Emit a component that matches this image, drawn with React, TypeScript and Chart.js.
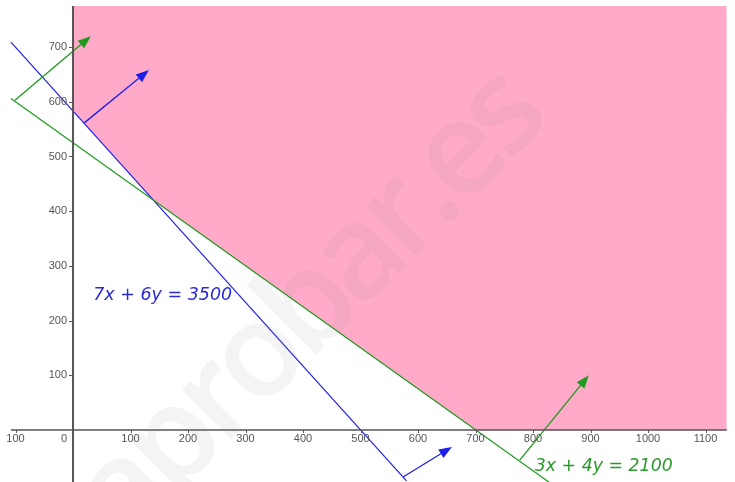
import React, { useEffect, useRef } from "react";
import { Chart, registerables } from "chart.js";

Chart.register(...registerables);

// ---- data ----
const xTickValues = [-100, 0, 100, 200, 300, 400, 500, 600, 700, 800, 900, 1000, 1100];
const xTickLabels = ["100", "0", "100", "200", "300", "400", "500", "600", "700", "800", "900", "1000", "1100"];
const yTickValues = [100, 200, 300, 400, 500, 600, 700];
const yTickLabels = ["100", "200", "300", "400", "500", "600", "700"];

// feasible region lower boundary (filled up to the top of the view)
const regionX = [0, 140, 700, 1137];
const regionY = [583.3, 420, 0, 0];
const regionTop = 775;

// 7x + 6y = 3500
const blueLineX = [-108, 580];
const blueLineY = [709, -93];
// 3x + 4y = 2100
const greenLineX = [-108, 850];
const greenLineY = [606, -112];

// normal arrows [x0, y0, x1, y1]
const blueArrows = [
  [19, 561, 132, 658],
  [574, -86, 659, -31],
];
const greenArrows = [
  [-101, 603, 31, 720],
  [777, -55, 897, 100],
];

const blueLabel = { text: "7x + 6y = 3500", x: 35, y: 237 };
const greenLabel = { text: "3x + 4y = 2100", x: 803, y: -75 };

const axisXRange = [-108, 1137];
const axisYRange = [-95, 775];

const X_MIN = -127;
const X_MAX = 1151.3;
const Y_MIN = -95.1;
const Y_MAX = 786.1;

const BLUE = "#1f1fe8";
const GREEN = "#1e9a1e";
const PINK = "#ffaac8";

const pts = (xs: number[], ys: number[]) => xs.map((x, i) => ({ x, y: ys[i] }));

export default function App() {
  const ref = useRef<HTMLCanvasElement | null>(null);

  useEffect(() => {
    document.body.style.margin = "0";
    const canvas = ref.current!;

    const overlay = {
      id: "overlay",
      afterDatasetsDraw(chart: any) {
        const ctx = chart.ctx as CanvasRenderingContext2D;
        const sx = chart.scales.x;
        const sy = chart.scales.y;
        const px = (v: number) => sx.getPixelForValue(v);
        const py = (v: number) => sy.getPixelForValue(v);

        // arrows
        const drawArrow = (a: number[], color: string) => {
          const x0 = px(a[0]), y0 = py(a[1]), x1 = px(a[2]), y1 = py(a[3]);
          const ang = Math.atan2(y1 - y0, x1 - x0);
          const L = 13, W = 5;
          const bx = x1 - L * Math.cos(ang), by = y1 - L * Math.sin(ang);
          ctx.save();
          ctx.strokeStyle = color;
          ctx.fillStyle = color;
          ctx.lineWidth = 1.3;
          ctx.beginPath();
          ctx.moveTo(x0, y0);
          ctx.lineTo(bx, by);
          ctx.stroke();
          ctx.beginPath();
          ctx.moveTo(x1, y1);
          ctx.lineTo(bx + W * Math.sin(ang), by - W * Math.cos(ang));
          ctx.lineTo(bx - W * Math.sin(ang), by + W * Math.cos(ang));
          ctx.closePath();
          ctx.fill();
          ctx.restore();
        };
        blueArrows.forEach((a) => drawArrow(a, BLUE));
        greenArrows.forEach((a) => drawArrow(a, GREEN));

        // axes
        ctx.save();
        ctx.strokeStyle = "#555555";
        ctx.lineWidth = 1.5;
        ctx.beginPath();
        ctx.moveTo(px(axisXRange[0]), py(0));
        ctx.lineTo(px(axisXRange[1]), py(0));
        ctx.stroke();
        ctx.lineWidth = 2;
        ctx.beginPath();
        ctx.moveTo(px(0), py(axisYRange[0]));
        ctx.lineTo(px(0), py(axisYRange[1]));
        ctx.stroke();

        ctx.lineWidth = 1;
        ctx.fillStyle = "#555555";
        ctx.font = "11px 'Liberation Sans', Arial, sans-serif";
        ctx.textBaseline = "middle";
        ctx.textAlign = "center";
        xTickValues.forEach((v, i) => {
          const x = px(v);
          if (v !== 0) {
            ctx.beginPath();
            ctx.moveTo(Math.round(x) + 0.5, py(0));
            ctx.lineTo(Math.round(x) + 0.5, py(0) + 3);
            ctx.stroke();
            ctx.fillText(xTickLabels[i], x, py(0) + 9);
          } else {
            ctx.fillText(xTickLabels[i], x - 9, py(0) + 9);
          }
        });
        ctx.textAlign = "right";
        yTickValues.forEach((v, i) => {
          const y = py(v);
          ctx.beginPath();
          ctx.moveTo(px(0) - 4, Math.round(y) + 0.5);
          ctx.lineTo(px(0), Math.round(y) + 0.5);
          ctx.stroke();
          ctx.fillText(yTickLabels[i], px(0) - 6, y);
        });

        // equation labels
        ctx.textAlign = "left";
        ctx.textBaseline = "alphabetic";
        ctx.font = "italic 18.5px 'DejaVu Sans', sans-serif";
        ctx.fillStyle = "#2a2ad6";
        ctx.fillText(blueLabel.text, px(blueLabel.x), py(blueLabel.y), 139);
        ctx.fillStyle = "#2a9a2a";
        ctx.fillText(greenLabel.text, px(greenLabel.x), py(greenLabel.y), 138);

        // watermark
        ctx.translate(442, 229);
        ctx.rotate(-Math.PI / 4);
        ctx.font = "600 130px 'Open Sans', sans-serif";
        (ctx as any).letterSpacing = "-8px";
        ctx.fillStyle = "rgba(128,128,128,0.09)";
        ctx.textAlign = "right";
        ctx.fillText("aprobar", 0, 0);
        ctx.textAlign = "left";
        ctx.fillText(".es", 0, 0);
        ctx.restore();
      },
    };

    const chart = new Chart(canvas, {
      type: "scatter",
      data: {
        datasets: [
          {
            data: pts(regionX, regionY),
            showLine: true,
            fill: { value: regionTop },
            backgroundColor: PINK,
            borderWidth: 0,
            borderColor: "rgba(0,0,0,0)",
            pointRadius: 0,
            tension: 0,
            order: 10,
          },
          {
            data: pts(blueLineX, blueLineY),
            showLine: true,
            borderColor: BLUE,
            borderWidth: 1.2,
            pointRadius: 0,
            fill: false,
            order: 1,
          },
          {
            data: pts(greenLineX, greenLineY),
            showLine: true,
            borderColor: GREEN,
            borderWidth: 1.2,
            pointRadius: 0,
            fill: false,
            order: 0,
          },
        ],
      },
      options: {
        animation: false,
        responsive: false,
        devicePixelRatio: 1,
        layout: { padding: 0 },
        plugins: { legend: { display: false }, tooltip: { enabled: false } },
        events: [],
        scales: {
          x: { type: "linear", min: X_MIN, max: X_MAX, display: false },
          y: { type: "linear", min: Y_MIN, max: Y_MAX, display: false },
        },
      } as any,
      plugins: [overlay],
    });
    return () => chart.destroy();
  }, []);

  return (
    <div style={{ position: "fixed", left: 0, top: 0, width: 735, height: 482, background: "#fff" }}>
      <canvas ref={ref} width={735} height={482} />
    </div>
  );
}
